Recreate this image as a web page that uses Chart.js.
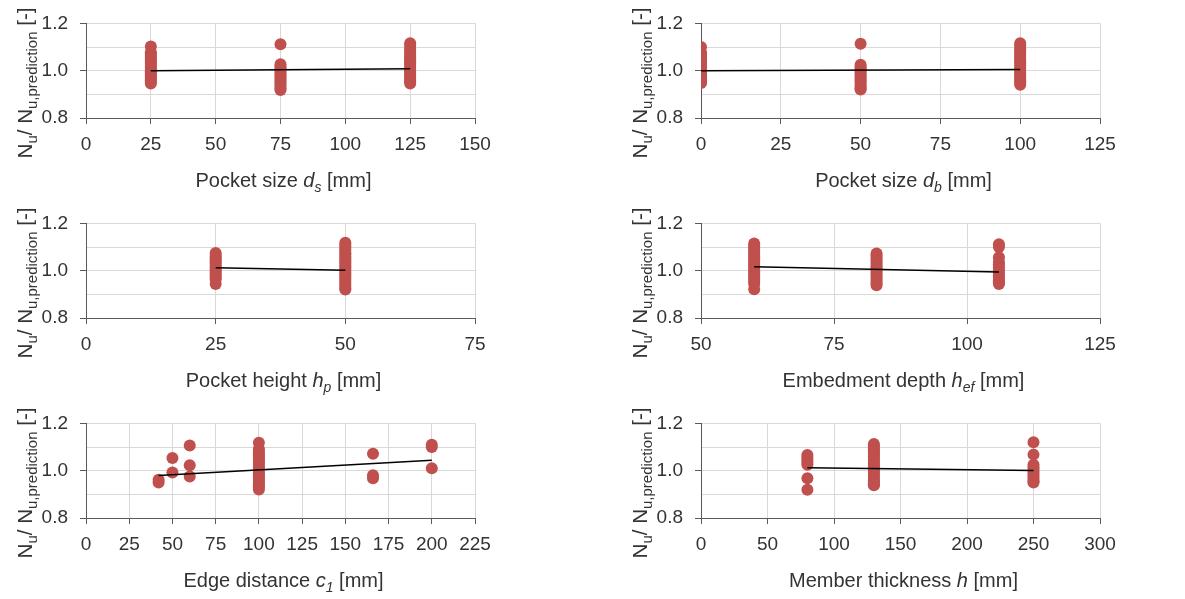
<!DOCTYPE html>
<html>
<head>
<meta charset="utf-8">
<script src="https://cdn.jsdelivr.net/npm/chart.js@4.4.1/dist/chart.umd.min.js"></script>
<style>
  html, body { margin: 0; padding: 0; background: #fff; }
  #wrap { position: relative; width: 1185px; height: 599px; overflow: hidden; }
  .panel { position: absolute; height: 200px; }
  .panel.l { left: 0; width: 590px; }
  .panel.r { left: 615px; width: 570px; }
</style>
</head>
<body>
<div id="wrap">
  <div class="panel l" style="top:0"><canvas id="c1" width="590" height="200"></canvas></div>
  <div class="panel r" style="top:0"><canvas id="c2" width="570" height="200"></canvas></div>
  <div class="panel l" style="top:200px"><canvas id="c3" width="590" height="200"></canvas></div>
  <div class="panel r" style="top:200px"><canvas id="c4" width="570" height="200"></canvas></div>
  <div class="panel l" style="top:400px"><canvas id="c5" width="590" height="200"></canvas></div>
  <div class="panel r" style="top:400px"><canvas id="c6" width="570" height="200"></canvas></div>
</div>
<script>
// N_u / N_u,prediction against each test parameter.

/* ---------------------------------- Data ---------------------------------- */
// pocket size d_s
const dsGroups = [25, 75, 125];
const dsValues = [
  [1.102, 1.078, 1.071, 1.062, 1.055, 1.047, 1.038, 1.030, 1.021, 1.012, 1.004, 0.998, 0.990, 0.983, 0.975, 0.968, 0.960, 0.953, 0.946],
  [1.112, 1.027, 1.018, 1.010, 1.002, 0.994, 0.985, 0.977, 0.968, 0.960, 0.951, 0.942, 0.933, 0.925, 0.918],
  [1.116, 1.105, 1.093, 1.084, 1.075, 1.066, 1.057, 1.048, 1.040, 1.031, 1.022, 1.013, 1.004, 0.996, 0.988, 0.979, 0.970, 0.962, 0.954, 0.946]
];
const dsTrend = [1.000, 1.008];

// pocket size d_b
const dbGroups = [0, 50, 100];
const dbValues = [
  [1.100, 1.077, 1.070, 1.061, 1.053, 1.045, 1.037, 1.029, 1.020, 1.011, 1.003, 0.996, 0.989, 0.981, 0.973, 0.966, 0.958, 0.951, 0.948],
  [1.114, 1.025, 1.017, 1.009, 1.001, 0.993, 0.984, 0.976, 0.967, 0.959, 0.950, 0.941, 0.932, 0.925, 0.920],
  [1.116, 1.106, 1.095, 1.085, 1.076, 1.067, 1.058, 1.049, 1.040, 1.031, 1.022, 1.013, 1.004, 0.995, 0.986, 0.977, 0.968, 0.959, 0.950, 0.941]
];
const dbTrend = [1.000, 1.005];

// pocket height h_p
const hpGroups = [25, 50];
const hpValues = [
  [1.075, 1.066, 1.057, 1.048, 1.040, 1.031, 1.022, 1.014, 1.005, 0.997, 0.988, 0.980, 0.971, 0.963, 0.944],
  [1.118, 1.110, 1.101, 1.092, 1.083, 1.074, 1.066, 1.057, 1.048, 1.040, 1.031, 1.022, 1.014, 1.005, 0.996, 0.988, 0.979, 0.970, 0.962, 0.953, 0.944, 0.935, 0.927, 0.921]
];
const hpTrend = [1.013, 1.002];

// embedment depth h_ef
const hefGroups = [60, 83, 106];
const hefValues = [
  [1.115, 1.106, 1.097, 1.088, 1.079, 1.070, 1.061, 1.052, 1.043, 1.034, 1.025, 1.016, 1.007, 0.998, 0.989, 0.980, 0.971, 0.962, 0.953, 0.944, 0.922],
  [1.073, 1.064, 1.055, 1.046, 1.037, 1.028, 1.019, 1.010, 1.001, 0.992, 0.983, 0.974, 0.965, 0.956, 0.947, 0.938],
  [1.112, 1.100, 1.057, 1.038, 1.027, 1.015, 1.003, 0.992, 0.981, 0.970, 0.960, 0.951, 0.944]
];
const hefTrend = [1.017, 0.995];

// edge distance c_1
const c1Groups = [42, 50, 60, 100, 166, 200];
const c1Values = [
  [0.962, 0.950],
  [1.054, 0.992],
  [1.107, 1.023, 0.975],
  [1.118, 1.092, 1.083, 1.074, 1.065, 1.056, 1.047, 1.038, 1.029, 1.020, 1.011, 1.002, 0.993, 0.984, 0.975, 0.966, 0.957, 0.948, 0.939, 0.930, 0.920],
  [1.072, 0.981, 0.968],
  [1.110, 1.100, 1.010]
];
const c1Trend = [0.980, 1.044];

// member thickness h
const hGroups = [80, 130, 250];
const hValues = [
  [1.066, 1.055, 1.045, 1.035, 1.025, 0.968, 0.919],
  [1.113, 1.104, 1.095, 1.086, 1.077, 1.068, 1.059, 1.050, 1.041, 1.032, 1.023, 1.014, 1.005, 0.996, 0.987, 0.978, 0.969, 0.960, 0.951, 0.943, 0.938],
  [1.120, 1.068, 1.025, 1.015, 1.005, 0.995, 0.985, 0.975, 0.965, 0.955, 0.950]
];
const hTrend = [1.012, 1.001];

/* --------------------------------- Styling -------------------------------- */
const FONT = "'Liberation Sans Narrow', 'Arial Narrow', 'Liberation Sans', Arial, sans-serif";
const TEXT = '#333333';
const AXIS = '#5a5a5a';
const GRID = '#d9d9d9';
const DOT = '#c0504d';

const yTitle = [
  { t: 'N' }, { t: 'u', sub: true }, { t: '/ N' }, { t: 'u,prediction', sub: true }, { t: ' [-]' }
];

// draw a run of text pieces (italic / subscript) centred on x, baseline y
function drawRich(ctx, segs, x, y, size, subSize) {
  const fontOf = s => `${s.it ? 'italic ' : ''}${s.sub ? subSize : size}px ${FONT}`;
  let total = 0;
  segs.forEach(s => { ctx.font = fontOf(s); total += ctx.measureText(s.t).width; });
  let cx = x - total / 2;
  ctx.textAlign = 'left';
  ctx.textBaseline = 'alphabetic';
  segs.forEach(s => {
    ctx.font = fontOf(s);
    ctx.fillText(s.t, cx, y + (s.sub ? 5 : 0));
    cx += ctx.measureText(s.t).width;
  });
}

const richTitles = {
  id: 'richTitles',
  afterDraw(chart, args, opts) {
    const { ctx, chartArea: a } = chart;
    ctx.save();
    ctx.fillStyle = TEXT;
    drawRich(ctx, opts.x, (a.left + a.right) / 2 + 3, 187, 20, 14);
    ctx.translate(a.left - 54, 83);
    ctx.rotate(-Math.PI / 2);
    drawRich(ctx, yTitle, 0, 0, 20.5, 15);
    ctx.restore();
  }
};

function isMajorY(v) { return Math.round(v * 10) % 2 === 0; }

function makePanel(id, cfg) {
  const points = cfg.groups.flatMap((g, i) => cfg.values[i].map(v => ({ x: g, y: v })));
  const g = cfg.groups;
  const trend = [{ x: g[0], y: cfg.trend[0] }, { x: g[g.length - 1], y: cfg.trend[1] }];

  return new Chart(document.getElementById(id), {
    type: 'scatter',
    data: {
      datasets: [
        { type: 'line', data: trend, borderColor: '#000', borderWidth: 1.5, pointRadius: 0, order: 0 },
        { data: points, backgroundColor: DOT, borderWidth: 0, pointRadius: 6, order: 1 }
      ]
    },
    options: {
      responsive: false,
      animation: false,
      devicePixelRatio: 1,
      layout: { padding: { top: 17, right: cfg.right, bottom: 0, left: 0 } },
      plugins: { legend: { display: false }, tooltip: { enabled: false }, richTitles: { x: cfg.title } },
      scales: {
        x: {
          type: 'linear', min: cfg.min, max: cfg.max,
          ticks: { stepSize: cfg.step, autoSkip: false, maxRotation: 0, padding: 9, color: TEXT, font: { family: FONT, size: 19 } },
          grid: { color: GRID, tickLength: 6, tickColor: AXIS },
          border: { color: AXIS, width: 1 },
          afterFit: s => { s.height = 82; }
        },
        y: {
          min: 0.8, max: 1.2,
          ticks: {
            stepSize: 0.1, autoSkip: false, padding: 12, color: TEXT, font: { family: FONT, size: 19 },
            callback: v => (isMajorY(v) ? v.toFixed(1) : '')
          },
          grid: { color: GRID, tickLength: 6, tickColor: c => (isMajorY(c.tick.value) ? AXIS : 'rgba(0,0,0,0)') },
          border: { color: AXIS, width: 1 },
          afterFit: s => { s.width = 86; }
        }
      }
    },
    plugins: [richTitles]
  });
}

/* ------------------------------- Entrypoint ------------------------------- */
makePanel('c1', { groups: dsGroups, values: dsValues, trend: dsTrend, min: 0, max: 150, step: 25, right: 115,
  title: [{ t: 'Pocket size ' }, { t: 'd', it: true }, { t: 's', it: true, sub: true }, { t: ' [mm]' }] });
makePanel('c2', { groups: dbGroups, values: dbValues, trend: dbTrend, min: 0, max: 125, step: 25, right: 85,
  title: [{ t: 'Pocket size ' }, { t: 'd', it: true }, { t: 'b', it: true, sub: true }, { t: ' [mm]' }] });
makePanel('c3', { groups: hpGroups, values: hpValues, trend: hpTrend, min: 0, max: 75, step: 25, right: 115,
  title: [{ t: 'Pocket height ' }, { t: 'h', it: true }, { t: 'p', it: true, sub: true }, { t: ' [mm]' }] });
makePanel('c4', { groups: hefGroups, values: hefValues, trend: hefTrend, min: 50, max: 125, step: 25, right: 85,
  title: [{ t: 'Embedment depth ' }, { t: 'h', it: true }, { t: 'ef', it: true, sub: true }, { t: ' [mm]' }] });
makePanel('c5', { groups: c1Groups, values: c1Values, trend: c1Trend, min: 0, max: 225, step: 25, right: 115,
  title: [{ t: 'Edge distance ' }, { t: 'c', it: true }, { t: '1', it: true, sub: true }, { t: ' [mm]' }] });
makePanel('c6', { groups: hGroups, values: hValues, trend: hTrend, min: 0, max: 300, step: 50, right: 85,
  title: [{ t: 'Member thickness ' }, { t: 'h', it: true }, { t: ' [mm]' }] });
</script>
</body>
</html>
